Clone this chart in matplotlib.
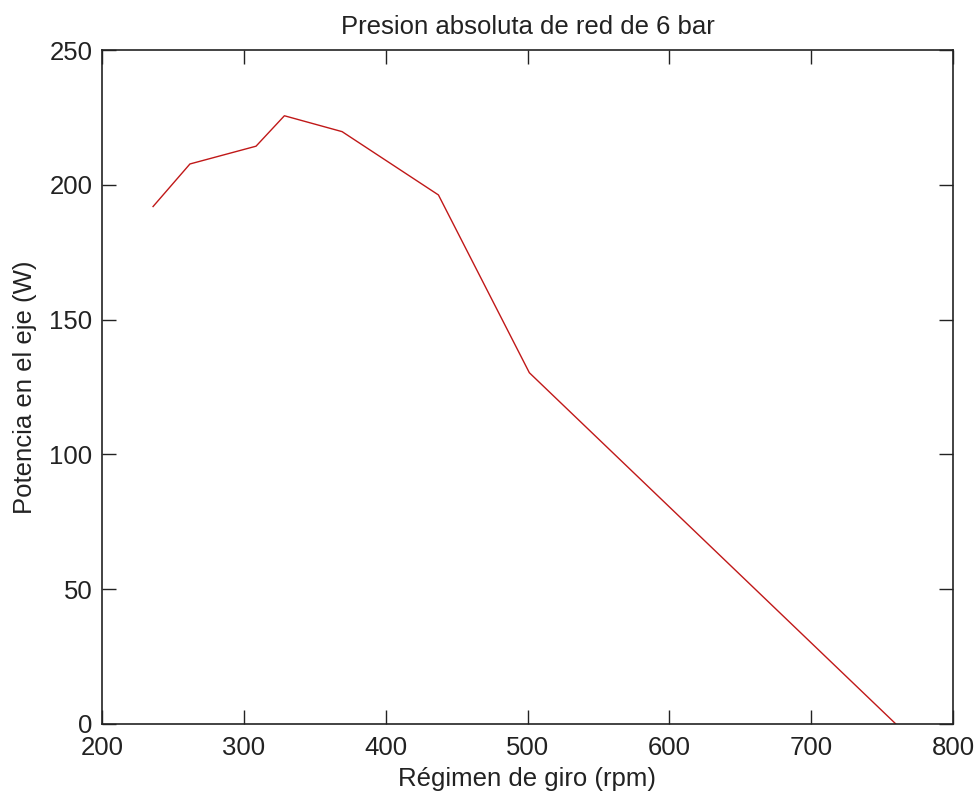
import matplotlib
matplotlib.use("Agg")
import matplotlib.pyplot as plt

# Shaft power vs. rotational speed at 6 bar absolute supply pressure
rpm = [236, 262, 308.6, 328.6, 369.3, 437.2, 501.3, 759.5]
power = [192, 207.8, 214.4, 225.7, 219.8, 196.3, 130.3, 0]

x_ticks = [200, 300, 400, 500, 600, 700, 800]
y_ticks = [0, 50, 100, 150, 200, 250]

plt.rcParams['font.family'] = ['Liberation Sans', 'DejaVu Sans']

fig = plt.figure(figsize=(9.79, 7.96), dpi=100)
ax = fig.add_axes([102 / 979, 1 - 723.7 / 796, (953 - 102) / 979, (723.7 - 50.3) / 796])

ax.plot(rpm, power, color='#c01818', linewidth=1.0)

ax.set_xlim(200, 800)
ax.set_ylim(0, 250)
ax.set_xticks(x_ticks)
ax.set_yticks(y_ticks)
ax.tick_params(direction='in', length=10, width=1, top=True, right=True,
               labelsize=18.5, colors='#222222')
ax.tick_params(axis='x', pad=9)
ax.tick_params(axis='y', pad=7)
for s in ax.spines.values():
    s.set_linewidth(1.2)
    s.set_color('#222222')

ax.set_title('Presion absoluta de red de 6 bar', fontsize=18.5, pad=12, color='#222222')
ax.set_xlabel('Régimen de giro (rpm)', fontsize=18.5, labelpad=5, color='#222222')
ax.set_ylabel('Potencia en el eje (W)', fontsize=18.5, labelpad=9, color='#222222')

fig.savefig('out.png', dpi=100)
